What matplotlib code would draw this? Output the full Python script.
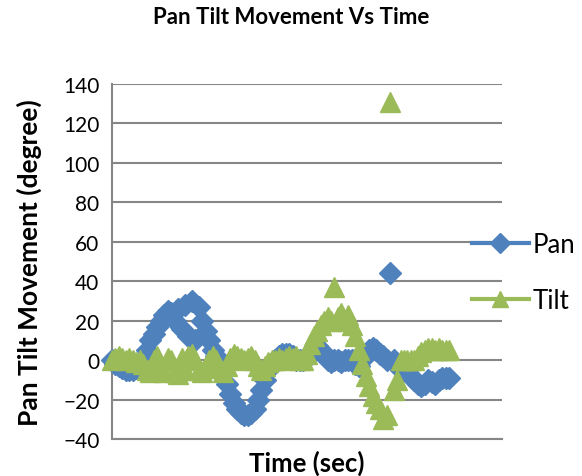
import numpy as np
import matplotlib.pyplot as plt
from matplotlib.lines import Line2D

plt.rcParams['font.family'] = ['Lato', 'DejaVu Sans']

# Pan and tilt readings, one per sample
pan = [0, -2, -3, -4, -5, -5, -5, -4, -3, 0,
       5, 10, 13, 17, 20, 23, 25, 24, 20, 26,
       16, 28, 12, 30, 10, 27, 20, 15, 10, 5,
       2, -2, -6, -12, -17, -22, -25, -27, -28, -28,
       -27, -25, -20, -15, -10, -5, -2, 0, 2, 3,
       3, 3, 2, 0, 0, 0, 1, 3, 5, 7,
       5, 3, 0, -1, 0, 0, -1, 0, 0, 0,
       -2, -3, 0, 3, 5, 6, 5, 3, 2, 0,
       44, 0, -2, -5, -5, -6, -8, -10, -12, -13,
       -12, -10, -11, -12, -10, -9, -9, -9]
tilt = [0, 1, 2, 1, 0, 1, 0, -1, 0, -2,
        -5, -6, 0, 2, -5, -6, 1, 0, -6, -7,
        1, -5, 2, 3, 0, -5, -6, -3, 0, 2,
        0, -4, -6, -3, 1, 3, 2, 1, 0, 1,
        2, 0, -3, -5, -3, -1, 0, 0, 1, 0,
        1, 2, 1, 2, 0, 0, 3, 8, 12, 15,
        18, 20, 22, 20, 37, 22, 24, 20, 23, 18,
        12, 5, -2, -8, -13, -18, -22, -25, -30, -28,
        131, -15, -10, 0, 0, 0, 0, 0, 2, 4,
        5, 6, 6, 5, 6, 5, 5, 5]
yticks = list(range(-40, 141, 20))

blue = '#4F81BD'
green = '#9BBB59'
grey = '#868686'

x = np.arange(len(pan))

fig = plt.figure(figsize=(5.82, 4.77), dpi=100)
ax = fig.add_axes([112/582, 1-440/477, 390/582, 355/477])

ax.plot(x, pan, linestyle='none', marker='D', markersize=11.5, color=blue, clip_on=False, zorder=3)
ax.plot(x, tilt, linestyle='none', marker='^', markersize=14, color=green, clip_on=False, zorder=4)

ax.set_ylim(-40, 140)
ax.set_xlim(0, 112.2)
ax.set_yticks(yticks)
ax.set_xticks([])
ax.tick_params(axis='y', length=0, labelsize=15, pad=9)
ax.yaxis.grid(True, color=grey, linewidth=1.5)
ax.set_axisbelow(True)
for s in ['top', 'right']:
    ax.spines[s].set_visible(False)
for s in ['left', 'bottom']:
    ax.spines[s].set_color(grey)
    ax.spines[s].set_linewidth(1.5)

ax.set_ylabel('Pan Tilt Movement (degree)', fontsize=19, fontweight='bold', labelpad=15)
ax.set_xlabel('Time (sec)', fontsize=18.5, fontweight='bold', labelpad=8)
fig.text(0.5, 1-18/477, 'Pan Tilt Movement Vs Time', ha='center', va='center',
         fontsize=16, fontweight='bold')

handles = [Line2D([], [], color=blue, lw=3, marker='D', markersize=10),
           Line2D([], [], color=green, lw=3, marker='^', markersize=12)]
fig.legend(handles, ['Pan', 'Tilt'], loc='upper left', bbox_to_anchor=(472/582, 1-233/477),
           frameon=False, fontsize=18.5, handlelength=2.2, handletextpad=0.15,
           labelspacing=1.2, borderpad=0, borderaxespad=0)

fig.savefig('out.png', dpi=100)
